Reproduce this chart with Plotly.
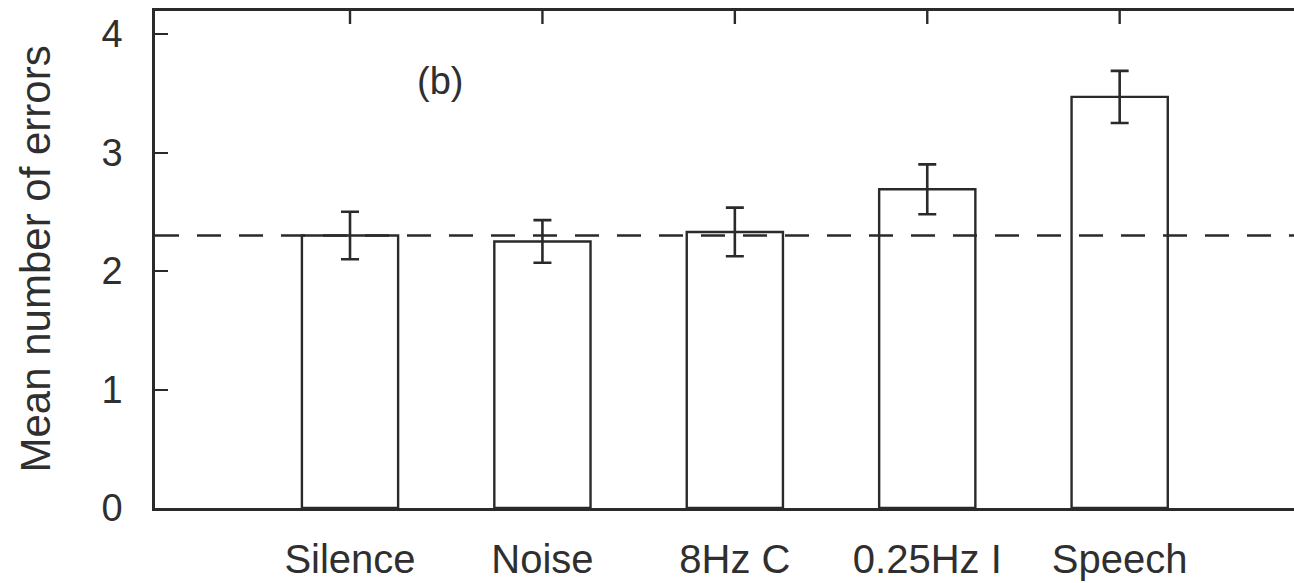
import plotly.graph_objects as go

# ---- data ----
categories = ["Silence", "Noise", "8Hz C", "0.25Hz I", "Speech"]
mean_errors = [2.30, 2.25, 2.33, 2.69, 3.47]
sem_errors = [0.20, 0.18, 0.205, 0.21, 0.22]
baseline = 2.30
y_ticks = [0, 1, 2, 3, 4]
panel_label = "(b)"
y_title = "Mean number of errors"

INK = "#2a2a2a"
TXT = "#2f2f2f"
FONT = "Liberation Sans, Arial, Helvetica, sans-serif"

x_pos = list(range(len(categories)))
x_range = [-1.0135, 4.906]
y_range = [0, 4.195]
top_tick_len = 0.11  # length of the top-frame tick marks, in y units (~13 px)

fig = go.Figure()

fig.add_trace(go.Bar(
    x=x_pos,
    y=mean_errors,
    width=0.5,
    marker=dict(color="white", line=dict(color=INK, width=2.4)),
    error_y=dict(type="data", array=sem_errors, visible=True,
                 color=INK, thickness=2.6, width=9),
    showlegend=False,
    hoverinfo="skip",
))

fig.add_trace(go.Scatter(
    x=x_range,
    y=[baseline, baseline],
    mode="lines",
    line=dict(color=INK, width=2.4, dash="24px,18px"),
    showlegend=False,
    hoverinfo="skip",
))

# tick marks hanging down from the top frame at each category
fig.add_trace(go.Scatter(
    x=x_pos,
    y=[y_range[1]] * len(x_pos),
    mode="markers",
    marker=dict(size=1, color="rgba(0,0,0,0)"),
    error_y=dict(type="data", symmetric=False,
                 array=[0] * len(x_pos),
                 arrayminus=[top_tick_len] * len(x_pos),
                 color=INK, thickness=2.4, width=0, visible=True),
    showlegend=False,
    hoverinfo="skip",
    cliponaxis=False,
))

fig.update_layout(
    width=1294,
    height=583,
    margin=dict(l=155, r=0, t=11, b=75),
    paper_bgcolor="white",
    plot_bgcolor="white",
    font=dict(family=FONT, color=TXT, size=40),
    xaxis=dict(
        range=x_range,
        tickvals=x_pos,
        ticktext=categories,
        ticks="",
        showline=True,
        linecolor=INK,
        linewidth=2.6,
        mirror=True,
        showgrid=False,
        zeroline=False,
        automargin=False,
        tickfont=dict(size=40, family=FONT, color=TXT),
        ticklabelstandoff=14,
    ),
    yaxis=dict(
        range=y_range,
        tickvals=y_ticks,
        ticks="inside",
        ticklen=13,
        tickwidth=2.4,
        tickcolor=INK,
        showline=True,
        linecolor=INK,
        linewidth=2.6,
        mirror=False,
        showgrid=False,
        zeroline=False,
        automargin=False,
        tickfont=dict(size=38, family=FONT, color=TXT),
        ticklabelstandoff=22,
    ),
    annotations=[
        dict(text=y_title, textangle=-90, xref="paper", yref="paper",
             x=0, y=0.5, xanchor="center", yanchor="middle", xshift=-120,
             showarrow=False, font=dict(size=42, family=FONT, color=TXT)),
        dict(text=panel_label, xref="x", yref="y",
             x=0.47, y=3.6, xanchor="center", yanchor="middle",
             showarrow=False, font=dict(size=38, family=FONT, color=TXT)),
    ],
)

fig.write_html("out.html")
